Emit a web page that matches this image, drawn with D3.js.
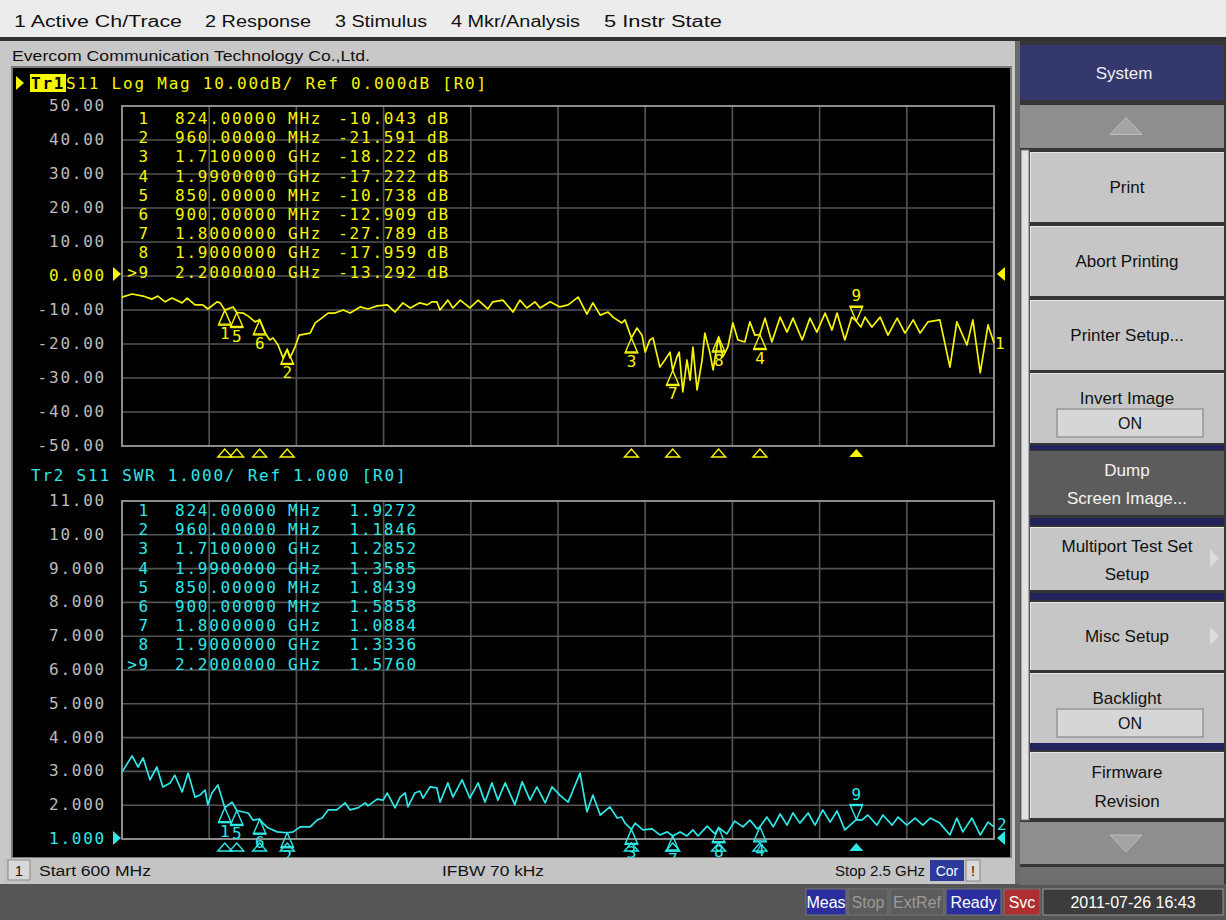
<!DOCTYPE html>
<html>
<head>
<meta charset="utf-8">
<script src="https://cdn.jsdelivr.net/npm/d3@7/dist/d3.min.js"></script>
<style>
html,body{margin:0;padding:0;background:#c8c8c8;overflow:hidden}
svg{display:block}
.mono{font-family:"DejaVu Sans Mono","Liberation Mono",monospace;font-size:16px;letter-spacing:1.77px}
.ui{font-family:"Liberation Sans","DejaVu Sans",sans-serif}
</style>
</head>
<body>
<svg id="chart" width="1226" height="920"></svg>
<script>
// ---------------- DATA ----------------
const s11Freq = [
600,622,646,665,678,694,709,731,742,759,
776,787,807,814,824,842,850,864,875,890,
900,912,922,929,940,951,960,966,977,986,
1010,1021,1038,1049,1064,1082,1097,1119,1136,1156,
1178,1195,1212,1228,1249,1265,1275,1286,1293,1310,
1321,1337,1358,1376,1397,1408,1430,1452,1467,1482,
1500,1511,1533,1554,1572,1594,1613,1626,1642,1659,
1670,1689,1696,1710,1722,1733,1740,1750,1757,1772,
1783,1794,1800,1809,1814,1822,1831,1838,1844,1853,
1864,1870,1881,1888,1896,1900,1909,1920,1931,1942,
1957,1968,1979,1990,2001,2016,2034,2049,2062,2082,
2099,2114,2132,2147,2158,2175,2190,2200,2210,2219,
2234,2252,2269,2289,2306,2324,2339,2356,2382,2404,
2419,2441,2454,2470,2487,2500];
const s11LogMag = [
-6.2,-5.3,-5.9,-6.8,-5.9,-7.6,-6.5,-7.9,-6.5,-8.5,
-8.5,-9.7,-7.6,-7.9,-10.043,-9.1,-10.738,-10.9,-11.8,-13.5,
-12.909,-16.8,-18.8,-18.2,-20.3,-24.1,-21.591,-24.1,-20.9,-17.4,
-16.8,-13.8,-12.1,-10.9,-10.9,-10.0,-10.9,-9.1,-9.7,-8.8,
-8.5,-10.6,-7.9,-9.4,-7.9,-8.5,-7.6,-7.6,-10.0,-7.1,
-9.4,-7.1,-9.4,-7.1,-9.7,-7.6,-7.1,-10.6,-7.1,-9.4,
-7.6,-9.4,-7.6,-9.1,-8.5,-6.2,-11.2,-7.9,-11.5,-10.6,
-12.1,-13.8,-12.9,-18.222,-15.3,-17.4,-22.4,-18.8,-18.2,-26.8,
-24.7,-22.4,-27.789,-23.8,-22.4,-34.1,-24.7,-30.6,-20.9,-33.5,
-24.7,-16.8,-22.6,-27.6,-20.9,-17.959,-23.8,-20.9,-13.8,-18.8,
-19.4,-13.5,-17.4,-17.222,-12.4,-19.4,-12.1,-16.5,-12.4,-18.8,
-12.4,-16.5,-10.9,-15.9,-10.9,-18.8,-12.1,-13.292,-15.0,-12.1,
-15.0,-12.1,-17.4,-12.4,-16.8,-12.9,-16.8,-13.5,-12.9,-26.8,
-13.5,-20.3,-12.9,-28.5,-14.4,-19.7];

const swrFreq = [
600,622,635,646,661,676,689,705,715,731,
744,759,770,781,787,796,809,824,840,850,
864,875,885,900,907,918,938,960,973,988,
1010,1025,1036,1049,1068,1086,1097,1114,1130,1136,
1156,1169,1178,1195,1206,1217,1223,1238,1249,1256,
1271,1286,1293,1310,1321,1341,1358,1376,1391,1406,
1419,1435,1456,1472,1489,1504,1522,1537,1554,1572,
1583,1598,1613,1626,1642,1663,1679,1689,1696,1710,
1718,1735,1755,1772,1788,1800,1816,1831,1844,1855,
1875,1892,1900,1918,1935,1953,1968,1984,1990,2005,
2019,2034,2049,2062,2077,2095,2110,2127,2143,2158,
2175,2200,2212,2225,2245,2258,2278,2291,2310,2328,
2345,2361,2382,2404,2419,2432,2452,2470,2487,2500];
const swrValue = [
2.98,3.46,3.13,3.40,2.75,3.13,2.54,2.66,2.89,2.39,
2.95,2.24,2.30,2.45,2.01,2.36,2.60,1.9272,2.09,1.8439,
1.80,1.77,1.56,1.5858,1.47,1.33,1.21,1.1846,1.21,1.36,
1.36,1.56,1.62,1.86,1.86,2.07,1.86,1.92,2.07,1.98,
2.18,2.15,2.36,1.92,2.24,2.36,1.95,2.36,2.42,2.21,
2.54,2.51,2.09,2.66,2.24,2.75,2.21,2.66,2.09,2.66,
2.15,2.66,2.01,2.69,2.15,2.54,2.07,2.54,2.30,2.09,
2.45,2.95,1.80,2.30,1.71,1.95,1.62,1.65,1.47,1.2852,
1.47,1.27,1.30,1.12,1.21,1.0884,1.21,1.09,1.27,1.09,
1.38,1.15,1.3336,1.15,1.53,1.36,1.56,1.30,1.3585,1.65,
1.36,1.74,1.41,1.77,1.47,1.77,1.41,1.86,1.50,1.83,
1.27,1.5760,1.56,1.71,1.41,1.71,1.41,1.65,1.41,1.62,
1.41,1.62,1.47,1.12,1.62,1.21,1.62,1.12,1.50,1.36];

const markerIds   = [1,2,3,4,5,6,7,8,9];
const markerFreq  = [824,960,1710,1990,850,900,1800,1900,2200];
const markerFreqText = ["824.00000","960.00000","1.7100000","1.9900000","850.00000","900.00000","1.8000000","1.9000000","2.2000000"];
const markerUnit  = ["MHz","MHz","GHz","GHz","MHz","MHz","GHz","GHz","GHz"];
const markerDB    = [-10.043,-21.591,-18.222,-17.222,-10.738,-12.909,-27.789,-17.959,-13.292];
const markerSWR   = [1.9272,1.1846,1.2852,1.3585,1.8439,1.5858,1.0884,1.3336,1.5760];
const activeMarker = 9;

const topTicks = [50,40,30,20,10,0,-10,-20,-30,-40,-50];
const topTickLabels = ["50.00","40.00","30.00","20.00","10.00","0.000","-10.00","-20.00","-30.00","-40.00","-50.00"];
const botTicks = [11,10,9,8,7,6,5,4,3,2,1];
const botTickLabels = ["11.00","10.00","9.000","8.000","7.000","6.000","5.000","4.000","3.000","2.000","1.000"];

const menuItems = ["1 Active Ch/Trace","2 Response","3 Stimulus","4 Mkr/Analysis","5 Instr State"];
const titleText = "Evercom Communication Technology Co.,Ltd.";
const tr1Text = " S11 Log Mag 10.00dB/ Ref 0.000dB [R0]";
const tr2Text = "Tr2 S11 SWR 1.000/ Ref 1.000 [R0]";
const startText = "Start 600 MHz", ifbwText = "IFBW 70 kHz", stopText = "Stop 2.5 GHz";
const statusItems = ["Meas","Stop","ExtRef","Ready","Svc"];
const dateText = "2011-07-26 16:43";

// ---------------- DRAW ----------------
const svg = d3.select("#chart");
const W = 1226, H = 920;
const YEL = "#f6f600", CYN = "#2ee8e8", GRID = "#545454", BORDER = "#9a9a9a", LBL = "#bcbcbc";

svg.append("rect").attr("width", W).attr("height", H).attr("fill", "#c8c8c8");

// top menu bar
svg.append("rect").attr("x",0).attr("y",0).attr("width",W).attr("height",37).attr("fill","#ececec");
svg.append("rect").attr("x",0).attr("y",37).attr("width",W).attr("height",4).attr("fill","#333");
const menuX = [14,205,335,451,604], menuW = [168,106,92,129,118];
menuItems.forEach((m,i)=>{
  svg.append("text").attr("class","ui").attr("x",menuX[i]).attr("y",27)
    .attr("font-size",16).attr("fill","#111").attr("textLength",menuW[i]).attr("lengthAdjust","spacingAndGlyphs").text(m);
});

// chart window
svg.append("rect").attr("x",0).attr("y",41).attr("width",1015).attr("height",843).attr("fill","#c8c8c8");
svg.append("text").attr("class","ui").attr("x",12).attr("y",61).attr("font-size",15).attr("fill","#111")
  .attr("textLength",358).attr("lengthAdjust","spacingAndGlyphs").text(titleText);
svg.append("rect").attr("x",11).attr("y",66).attr("width",1001).attr("height",792).attr("fill","#7a7a7a");
svg.append("rect").attr("x",13).attr("y",68).attr("width",997).attr("height",789).attr("fill","#000");

// scales
const x = d3.scaleLinear().domain([600,2500]).range([122,994]);
const yTop = d3.scaleLinear().domain([-50,50]).range([446,106]);
const yBot = d3.scaleLinear().domain([1,11]).range([839,501]);
const xGrid = d3.range(0,11).map(i=>600+i*190);

function drawGrid(y, ticks){
  const g = svg.append("g");
  g.selectAll(".v").data(xGrid.slice(1,-1)).enter().append("line")
    .attr("x1",d=>x(d)).attr("x2",d=>x(d)).attr("y1",y.range()[1]).attr("y2",y.range()[0])
    .attr("stroke",GRID).attr("stroke-width",1.6);
  g.selectAll(".h").data(ticks.slice(1,-1)).enter().append("line")
    .attr("x1",x.range()[0]).attr("x2",x.range()[1]).attr("y1",d=>y(d)).attr("y2",d=>y(d))
    .attr("stroke",GRID).attr("stroke-width",1.6);
  g.append("rect").attr("x",x.range()[0]).attr("y",y.range()[1])
    .attr("width",x.range()[1]-x.range()[0]).attr("height",y.range()[0]-y.range()[1])
    .attr("fill","none").attr("stroke",BORDER).attr("stroke-width",1.8);
}
drawGrid(yTop, topTicks);
drawGrid(yBot, botTicks);

function tickLabels(y, ticks, labels, refVal, refColor){
  ticks.forEach((t,i)=>{
    svg.append("text").attr("class","mono").attr("x",106).attr("y",y(t)+5)
      .attr("text-anchor","end").attr("fill", t===refVal?refColor:LBL).text(labels[i]);
  });
}
tickLabels(yTop, topTicks, topTickLabels, 0, YEL);
tickLabels(yBot, botTicks, botTickLabels, 1, CYN);

// reference arrows
function refArrows(yv, color){
  svg.append("path").attr("d",`M113,${yv-7}L121,${yv}L113,${yv+7}Z`).attr("fill",color);
  svg.append("path").attr("d",`M1005,${yv-7}L997,${yv}L1005,${yv+7}Z`).attr("fill",color);
}
refArrows(yTop(0)-2, YEL);
refArrows(yBot(1)-1, CYN);

// headers
svg.append("path").attr("d","M16,76L24,83L16,90Z").attr("fill",YEL);
svg.append("rect").attr("x",30).attr("y",74).attr("width",36).attr("height",18).attr("fill",YEL);
svg.append("text").attr("class","mono").attr("x",31).attr("y",89).attr("fill","#000").attr("font-weight","bold").text("Tr1");
svg.append("text").attr("class","mono").attr("x",66).attr("y",89).attr("fill",YEL).text(tr1Text);
svg.append("text").attr("class","mono").attr("x",31).attr("y",481).attr("fill",CYN).text(tr2Text);

// traces
const line = (y)=>d3.line().x(d=>x(d[0])).y(d=>y(d[1]));
svg.append("path").datum(s11Freq.map((f,i)=>[f,s11LogMag[i]]))
  .attr("d",line(yTop)).attr("fill","none").attr("stroke",YEL).attr("stroke-width",1.7).attr("stroke-linejoin","round");
svg.append("path").datum(swrFreq.map((f,i)=>[f,swrValue[i]]))
  .attr("d",line(yBot)).attr("fill","none").attr("stroke",CYN).attr("stroke-width",1.7).attr("stroke-linejoin","round");

// trace number labels at right end
svg.append("text").attr("class","mono").attr("x",995).attr("y",yTop(s11LogMag[s11LogMag.length-1])+6).attr("fill",YEL).text("1");
svg.append("text").attr("class","mono").attr("x",997).attr("y",yBot(swrValue[swrValue.length-1])+3).attr("fill",CYN).text("2");

// marker table
function markerTable(y0, values, fmt, unitSuffix, color){
  markerIds.forEach((id,i)=>{
    const yy = y0 + i*19.2 + 6;
    svg.append("text").attr("class","mono").attr("x",150).attr("y",yy).attr("text-anchor","end").attr("fill",color)
      .text((id===activeMarker?">":"")+id);
    svg.append("text").attr("class","mono").attr("x",175).attr("y",yy).attr("fill",color).text(markerFreqText[i]);
    svg.append("text").attr("class","mono").attr("x",288).attr("y",yy).attr("fill",color).text(markerUnit[i]);
    svg.append("text").attr("class","mono").attr("x",418).attr("y",yy).attr("text-anchor","end").attr("fill",color).text(fmt(values[i]));
    if(unitSuffix) svg.append("text").attr("class","mono").attr("x",427).attr("y",yy).attr("fill",color).text(unitSuffix);
  });
}
markerTable(118, markerDB, d=>d.toFixed(3), "dB", YEL);
markerTable(510, markerSWR, d=>d.toFixed(4), "", CYN);

// markers on trace
function drawMarkers(y, values, color, bottomY){
  markerIds.forEach((id,i)=>{
    const mx = x(markerFreq[i]), my = y(values[i]);
    const g = svg.append("g").attr("stroke",color).attr("fill","none").attr("stroke-width",1.4);
    if(id===activeMarker){
      g.append("path").attr("d",`M${mx},${my}L${mx-6},${my-14}L${mx+6},${my-14}Z`);
      g.append("line").attr("x1",mx-7).attr("x2",mx+7).attr("y1",my-15).attr("y2",my-15);
      svg.append("text").attr("class","mono").attr("x",mx+1).attr("y",my-20).attr("text-anchor","middle").attr("fill",color).text(id);
      svg.append("path").attr("d",`M${mx},${bottomY}L${mx-7},${bottomY+8}L${mx+7},${bottomY+8}Z`).attr("fill",color);
    } else {
      g.append("path").attr("d",`M${mx},${my}L${mx-6},${my+14}L${mx+6},${my+14}Z`);
      g.append("line").attr("x1",mx-7).attr("x2",mx+7).attr("y1",my+15).attr("y2",my+15);
      svg.append("text").attr("class","mono").attr("x",mx+1).attr("y",my+29).attr("text-anchor","middle").attr("fill",color).text(id);
      svg.append("path").attr("d",`M${mx},${bottomY}L${mx-7},${bottomY+8}L${mx+7},${bottomY+8}Z`)
        .attr("fill","none").attr("stroke",color).attr("stroke-width",1.4);
    }
  });
}
drawMarkers(yTop, markerDB, YEL, 449);
drawMarkers(yBot, markerSWR, CYN, 843);

// bottom channel strip
svg.append("rect").attr("x",4).attr("y",858).attr("width",1010).attr("height",25).attr("fill","#c4c4c4");
svg.append("rect").attr("x",8).attr("y",860).attr("width",22).attr("height",20).attr("fill","#d8d8d8").attr("stroke","#888");
svg.append("text").attr("class","ui").attr("x",15).attr("y",876).attr("font-size",14).attr("fill","#111").text("1");
svg.append("text").attr("class","ui").attr("x",39).attr("y",876).attr("font-size",14).attr("fill","#111").attr("textLength",112).attr("lengthAdjust","spacingAndGlyphs").text(startText);
svg.append("text").attr("class","ui").attr("x",442).attr("y",876).attr("font-size",14).attr("fill","#111").attr("textLength",102).attr("lengthAdjust","spacingAndGlyphs").text(ifbwText);
svg.append("text").attr("class","ui").attr("x",835).attr("y",876).attr("font-size",14).attr("fill","#111").attr("textLength",90).attr("lengthAdjust","spacingAndGlyphs").text(stopText);
svg.append("rect").attr("x",930).attr("y",860).attr("width",34).attr("height",21).attr("fill","#2c3a9c");
svg.append("text").attr("class","ui").attr("x",947).attr("y",876).attr("font-size",14).attr("text-anchor","middle").attr("fill","#fff").text("Cor");
svg.append("rect").attr("x",966).attr("y",860).attr("width",14).attr("height",21).attr("fill","#d8d8d8").attr("stroke","#888");
svg.append("text").attr("class","ui").attr("x",973).attr("y",876).attr("font-size",14).attr("text-anchor","middle").attr("fill","#111").text("!");

// status bar
svg.append("rect").attr("x",0).attr("y",884).attr("width",W).attr("height",36).attr("fill","#565656");
const stX = [806,848,890,946,1004], stW = [40,40,54,55,36];
const stBg = ["#2b2e9e","#5c5c5c","#5c5c5c","#2b2e9e","#ad2f2f"], stFg = ["#fff","#9a9a9a","#9a9a9a","#fff","#fff"];
statusItems.forEach((s,i)=>{
  svg.append("rect").attr("x",stX[i]).attr("y",889).attr("width",stW[i]).attr("height",26).attr("fill",stBg[i]).attr("stroke","#777");
  svg.append("text").attr("class","ui").attr("x",stX[i]+stW[i]/2).attr("y",908).attr("font-size",16).attr("text-anchor","middle").attr("fill",stFg[i]).text(s);
});
svg.append("rect").attr("x",1043).attr("y",889).attr("width",180).attr("height",26).attr("fill","#3c3c3c").attr("stroke","#999");
svg.append("text").attr("class","ui").attr("x",1133).attr("y",908).attr("font-size",16).attr("text-anchor","middle").attr("fill","#fff").text(dateText);

// right soft-key panel
svg.append("rect").attr("x",1015).attr("y",41).attr("width",211).attr("height",843).attr("fill","#353535");
svg.append("rect").attr("x",1015).attr("y",41).attr("width",5).attr("height",843).attr("fill","#6a6a6a");
svg.append("rect").attr("x",1021).attr("y",150).attr("width",8).attr("height",670).attr("fill","#e2e2e2").attr("stroke","#777");
svg.append("rect").attr("x",1020).attr("y",45).attr("width",204).attr("height",55).attr("fill","#35386c");
svg.append("text").attr("class","ui").attr("x",1124).attr("y",79).attr("font-size",17).attr("text-anchor","middle").attr("fill","#f0f0f0").text("System");
function arrowBtn(y0,h,up){
  svg.append("rect").attr("x",1020).attr("y",y0).attr("width",204).attr("height",h).attr("fill","#8e8e8e");
  const cy = y0+h/2;
  const d = up ? `M1110,${cy+8}L1126,${cy-9}L1142,${cy+8}Z` : `M1110,${cy-8}L1126,${cy+9}L1142,${cy-8}Z`;
  svg.append("path").attr("d",d).attr("fill","#a4a4a4").attr("stroke","#bdbdbd");
}
arrowBtn(105,43,true);
arrowBtn(822,42,false);
svg.append("rect").attr("x",1020).attr("y",867).attr("width",204).attr("height",18).attr("fill","#6e6e6e");

const keyLabels = [["Print"],["Abort Printing"],["Printer Setup..."],["Invert Image"],["Dump","Screen Image..."],["Multiport Test Set","Setup"],["Misc Setup"],["Backlight"],["Firmware","Revision"]];
const keyTop = [152,226,300,373,451,527,602,673,752], keyBot = [222,296,370,443,515,590,670,743,818];
const keyField = [null,null,null,"ON",null,null,null,"ON",null];
const keyArrow = [false,false,false,false,false,true,true,false,false];
const navyLines = [[445,450],[518,525],[593,600],[743,750]];
navyLines.forEach(n=>svg.append("rect").attr("x",1030).attr("y",n[0]).attr("width",194).attr("height",n[1]-n[0]).attr("fill","#22235a"));
keyLabels.forEach((lab,i)=>{
  const dark = i===4;
  const y0 = keyTop[i], y1 = keyBot[i];
  svg.append("rect").attr("x",1030).attr("y",y0).attr("width",194).attr("height",y1-y0).attr("fill",dark?"#5c5c5c":"#c6c6c6");
  if(!dark){
    svg.append("line").attr("x1",1030).attr("x2",1224).attr("y1",y0+0.5).attr("y2",y0+0.5).attr("stroke","#e6e6e6");
    svg.append("line").attr("x1",1030.5).attr("x2",1030.5).attr("y1",y0).attr("y2",y1).attr("stroke","#e6e6e6");
  }
  const fg = dark?"#f4f4f4":"#111";
  let centers;
  if(keyField[i]) centers=[y0+25];
  else if(lab.length===2) centers=[y0+(y1-y0)*0.3, y0+(y1-y0)*0.74];
  else centers=[(y0+y1)/2];
  lab.forEach((t,j)=>{
    svg.append("text").attr("class","ui").attr("x",1127).attr("y",centers[j]+6).attr("font-size",17)
      .attr("text-anchor","middle").attr("fill",fg).text(t);
  });
  if(keyField[i]){
    svg.append("rect").attr("x",1057).attr("y",y0+36).attr("width",146).attr("height",28).attr("fill","#d6d6d6").attr("stroke","#7a7a7a");
    svg.append("text").attr("class","ui").attr("x",1130).attr("y",y0+56).attr("font-size",16).attr("text-anchor","middle").attr("fill","#111").text(keyField[i]);
  }
  if(keyArrow[i]){
    const cy = (y0+y1)/2;
    svg.append("path").attr("d",`M1210,${cy-9}L1219,${cy}L1210,${cy+9}Z`).attr("fill","#dcdcdc");
  }
});
</script>
</body>
</html>
